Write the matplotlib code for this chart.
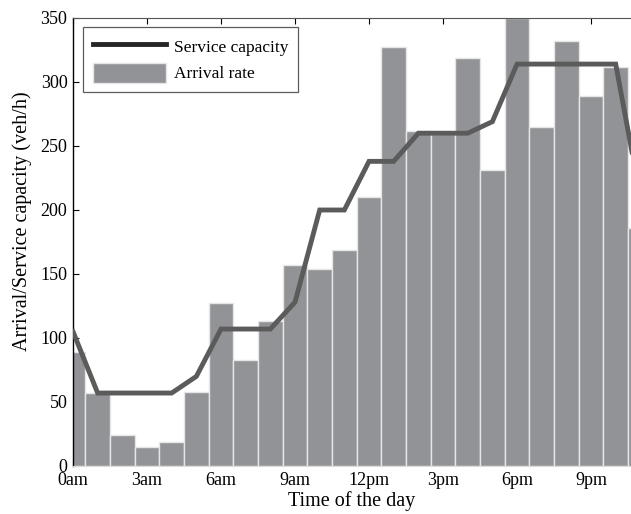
import matplotlib.pyplot as plt
from matplotlib.lines import Line2D
from matplotlib.patches import Patch

# hourly arrival rate and service capacity (veh/h)
hours = list(range(24))
arrival_rate = [89, 57, 24, 15, 19, 58, 127, 83, 113, 157, 154, 169,
                210, 327, 262, 259, 319, 231, 350, 265, 332, 289, 312, 186]
service_capacity = [105, 57, 57, 57, 57, 70, 107, 107, 107, 128, 200, 200,
                    238, 238, 260, 260, 260, 269, 314, 314, 314, 314, 314, 210]
tick_hours = [0, 3, 6, 9, 12, 15, 18, 21]
tick_labels = ["0am", "3am", "6am", "9am", "12pm", "3pm", "6pm", "9pm"]

plt.rcParams["font.family"] = ["Liberation Serif", "DejaVu Serif"]

fig = plt.figure(figsize=(6.31, 5.14), dpi=100)
ax = fig.add_axes([73 / 631, 1 - 466 / 514, 1 - 73 / 631, (466 - 18) / 514])

ax.bar(hours, arrival_rate, width=1.0, color="#929396",
       edgecolor="#e6e6e6", linewidth=1.0, zorder=2)
ax.plot(hours, service_capacity, color="#5b5b5b", linewidth=3.5, zorder=3,
        solid_joinstyle="miter")

ax.set_xlim(0, 22.62)
ax.set_ylim(0, 350)
ax.set_xticks(tick_hours)
ax.set_xticklabels(tick_labels)
ax.set_yticks(range(0, 351, 50))
ax.tick_params(direction="in", top=True, labelsize=13, length=4,
               width=0.8)
ax.tick_params(axis="y", pad=4)
ax.tick_params(axis="x", pad=4)
ax.spines["right"].set_visible(False)
ax.spines["top"].set_color("#555555")
ax.spines["bottom"].set_color("#dcdcdc")
ax.spines["left"].set_linewidth(1.0)

ax.set_xlabel("Time of the day", fontsize=14.5, labelpad=2)
ax.set_ylabel("Arrival/Service capacity (veh/h)", fontsize=14.5)
ax.yaxis.set_label_coords(-0.074, 0.547)

handles = [Line2D([0], [0], color="#262626", linewidth=3.5),
           Patch(facecolor="#929396", edgecolor="#e6e6e6")]
leg = ax.legend(handles, ["Service capacity", "Arrival rate"],
                loc="upper left", bbox_to_anchor=(0.018, 0.98),
                fontsize=12.5, frameon=True, fancybox=False,
                handlelength=4.2, handleheight=1.4, borderpad=0.55,
                labelspacing=0.35, handletextpad=0.5, borderaxespad=0)
leg.get_frame().set_edgecolor("#333333")
leg.get_frame().set_linewidth(0.9)

plt.savefig("out.png", dpi=100)
